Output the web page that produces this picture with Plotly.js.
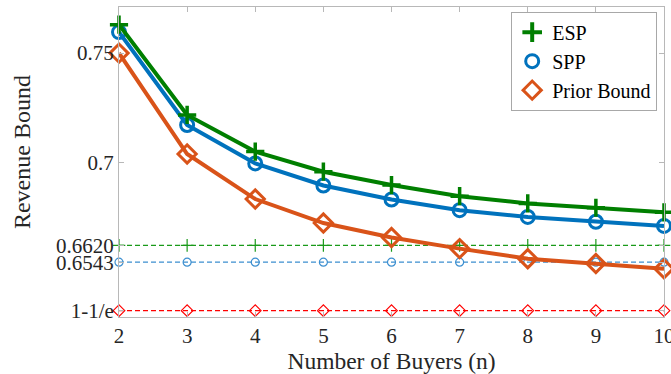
<!DOCTYPE html>
<html>
<head>
<meta charset="utf-8">
<script src="https://cdn.plot.ly/plotly-3.0.1.min.js"></script>
<style>html,body{margin:0;padding:0;background:#fff;}#chart{width:671px;height:374px;}</style>
</head>
<body>
<div id="chart"></div>
<script>
const buyers = [2, 3, 4, 5, 6, 7, 8, 9, 10];
const esp = [0.7630, 0.7217, 0.7049, 0.6957, 0.6896, 0.6845, 0.6812, 0.6792, 0.6771];
const spp = [0.7596, 0.7171, 0.6995, 0.6894, 0.6830, 0.6781, 0.6750, 0.6728, 0.6709];
const priorBound = [0.7500, 0.7038, 0.6832, 0.6722, 0.6656, 0.6605, 0.6559, 0.6537, 0.6513];
const espLimit = [0.6620, 0.6620, 0.6620, 0.6620, 0.6620, 0.6620, 0.6620, 0.6620, 0.6620];
const sppLimit = [0.6543, 0.6543, 0.6543, 0.6543, 0.6543, 0.6543, 0.6543, 0.6543, 0.6543];
const eLimit = [0.6321, 0.6321, 0.6321, 0.6321, 0.6321, 0.6321, 0.6321, 0.6321, 0.6321];
const yTickVals = [0.6321, 0.6543, 0.6620, 0.7, 0.75];
const yTickText = ['1-1/e', '0.6543', '0.6620', '0.7', '0.75'];
const names = ['ESP', 'SPP', 'Prior Bound'];

const cGreen = '#007f00', cBlue = '#0072bd', cOrange = '#d95319';
const font = '"Liberation Serif", "Times New Roman", serif';
const textColor = '#262626';

const traces = [
  {x: buyers, y: espLimit, mode: 'lines+markers', showlegend: false, cliponaxis: false,
   line: {color: '#1a9a1a', width: 1.2, dash: '5px,3px'},
   marker: {symbol: 'cross-thin-open', size: 9, color: '#1a9a1a', line: {color: '#1a9a1a', width: 1.2}}},
  {x: buyers, y: sppLimit, mode: 'lines+markers', showlegend: false, cliponaxis: false,
   line: {color: '#3c8fd0', width: 1.2, dash: '5px,3px'},
   marker: {symbol: 'circle-open', size: 8, color: '#3c8fd0', line: {color: '#3c8fd0', width: 1.2}}},
  {x: buyers, y: eLimit, mode: 'lines+markers', showlegend: false, cliponaxis: false,
   line: {color: '#ff0000', width: 1.2, dash: '5px,3px'},
   marker: {symbol: 'diamond-open', size: 9, color: '#ff0000', line: {color: '#ff0000', width: 1.2}}},
  {x: buyers, y: priorBound, mode: 'lines+markers', showlegend: false, cliponaxis: false,
   line: {color: cOrange, width: 4},
   marker: {symbol: 'diamond-open', size: 14, color: cOrange, line: {color: cOrange, width: 3}}},
  {x: buyers, y: spp, mode: 'lines+markers', showlegend: false, cliponaxis: false,
   line: {color: cBlue, width: 4},
   marker: {symbol: 'circle-open', size: 13, color: cBlue, line: {color: cBlue, width: 3}}},
  {x: buyers, y: esp, mode: 'lines+markers', showlegend: false, cliponaxis: false,
   line: {color: cGreen, width: 4},
   marker: {symbol: 'cross-thin-open', size: 13, color: cGreen, line: {color: cGreen, width: 3.5}}},
  {x: [null], y: [null], name: names[0], mode: 'markers',
   marker: {symbol: 'cross-thin-open', size: 14, color: cGreen, line: {color: cGreen, width: 4}}},
  {x: [null], y: [null], name: names[1], mode: 'markers',
   marker: {symbol: 'circle-open', size: 13, color: cBlue, line: {color: cBlue, width: 3}}},
  {x: [null], y: [null], name: names[2], mode: 'markers',
   marker: {symbol: 'diamond-open', size: 14, color: cOrange, line: {color: cOrange, width: 3}}}
];

const axisCommon = {
  showline: true, linecolor: '#b8b8b8', linewidth: 1, mirror: 'ticks',
  ticks: 'inside', ticklen: 5, tickcolor: '#b8b8b8', tickwidth: 1,
  showgrid: false, zeroline: false, ticklabeloverflow: 'allow',
  tickfont: {family: font, size: 21, color: textColor}
};

const layout = {
  width: 671, height: 374,
  margin: {l: 119, r: 7, t: 7, b: 57},
  paper_bgcolor: '#ffffff', plot_bgcolor: '#ffffff',
  font: {family: font, color: textColor},
  xaxis: Object.assign({}, axisCommon, {
    range: [2, 10], tickvals: buyers, ticktext: buyers.map(String),
    title: {text: 'Number of Buyers (n)', font: {family: font, size: 23.5, color: textColor}, standoff: 2}
  }),
  yaxis: Object.assign({}, axisCommon, {
    range: [0.6292, 0.7711], tickvals: yTickVals, ticktext: yTickText
  }),
  annotations: [{
    text: 'Revenue Bound', xref: 'paper', yref: 'paper',
    x: -0.178, y: 0.532, xanchor: 'center', yanchor: 'middle',
    textangle: -90, showarrow: false,
    font: {family: font, size: 24, color: textColor}
  }],
  legend: {
    x: 0.9875, xanchor: 'right', y: 0.985, yanchor: 'top',
    bgcolor: '#ffffff', bordercolor: '#a8a8a8', borderwidth: 1,
    font: {family: font, size: 20, color: '#000000'},
    itemwidth: 30, tracegroupgap: 0
  },
  showlegend: true
};

Plotly.newPlot('chart', traces, layout, {displayModeBar: false, staticPlot: true});
</script>
</body>
</html>
